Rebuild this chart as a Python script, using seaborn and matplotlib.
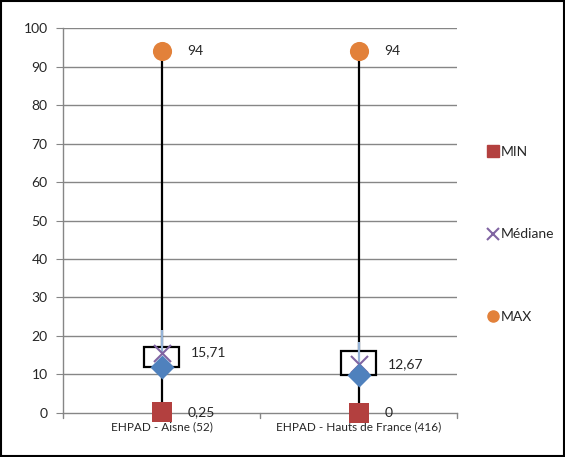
import pandas as pd
import seaborn as sns
import matplotlib.pyplot as plt
from matplotlib.lines import Line2D
from matplotlib.patches import Rectangle

categories = ["EHPAD - Aisne (52)", "EHPAD - Hauts de France (416)"]
mins = [0.25, 0]
q1 = [12.0, 9.8]
medians = [15.71, 12.67]
q3 = [17.2, 16.2]
upper = [21.5, 18.5]
maxs = [94, 94]
min_labels = ["0,25", "0"]
med_labels = ["15,71", "12,67"]
max_labels = ["94", "94"]

if __name__ == "__main__":
    sns.set_style("white")
    plt.rcParams['font.family'] = ['Lato', 'DejaVu Sans']

    df = pd.DataFrame({"cat": categories, "MIN": mins, "Q1": q1, "Médiane": medians,
                       "Q3": q3, "haut": upper, "MAX": maxs})

    fig = plt.figure(figsize=(5.65, 4.57), dpi=100)
    ax = fig.add_axes([0.1115, 0.0963, 0.6975, 0.8424])

    # grid lines
    for v in range(10, 101, 10):
        ax.axhline(v, color="#868686", lw=1, zorder=0)

    # min-max line
    ax.vlines(df["cat"], df["MIN"], df["MAX"], color="black", lw=1.6, zorder=1)
    # box (Q1 - Q3)
    ax.bar(df["cat"], df["Q3"] - df["Q1"], bottom=df["Q1"], width=0.18,
           color="white", edgecolor="black", linewidth=1.6, zorder=2)
    # light blue segment above median
    ax.vlines(df["cat"], df["Médiane"], df["haut"], color="#95B3D7", lw=1.6, zorder=3)

    sns.scatterplot(data=df, x="cat", y="Q1", marker="D", s=150, color="#4F81BD",
                    edgecolor="#4F81BD", linewidth=0, ax=ax, zorder=5, legend=False)
    sns.scatterplot(data=df, x="cat", y="Médiane", marker="x", s=150, color="#8064A2",
                    linewidth=1.5, ax=ax, zorder=4, legend=False)
    sns.scatterplot(data=df, x="cat", y="MAX", marker="o", s=190, color="#E2813A",
                    linewidth=0, ax=ax, zorder=5, legend=False)
    sns.scatterplot(data=df, x="cat", y="MIN", marker="s", s=210, color="#B3403F",
                    linewidth=0, ax=ax, zorder=5, legend=False, clip_on=False)

    for i in range(len(categories)):
        ax.text(i + 0.13, maxs[i], max_labels[i], va="center", ha="left", fontsize=10)
        ax.text(i + 0.15, medians[i], med_labels[i], va="center", ha="left", fontsize=10)
        ax.text(i + 0.13, mins[i], min_labels[i], va="center", ha="left", fontsize=10)

    ax.set_xlim(-0.5, 1.5)
    ax.set_ylim(0, 100)
    ax.set_yticks(range(0, 101, 10))
    ax.set_xticks([0, 1])
    ax.set_xticklabels(categories, fontsize=8.5)
    ax.set_xlabel("")
    ax.set_ylabel("")
    ax.tick_params(axis="y", labelsize=10, length=5, color="#868686", left=True, pad=6)
    ax.tick_params(axis="x", length=0, pad=6)
    for x in [-0.5, 0.5, 1.5]:
        ax.plot([x, x], [0, -1.2], color="#868686", lw=1, clip_on=False)
    for s in ["top", "right"]:
        ax.spines[s].set_visible(False)
    for s in ["left", "bottom"]:
        ax.spines[s].set_color("#868686")
        ax.spines[s].set_linewidth(1)

    handles = [
        Line2D([], [], marker="s", color="#B3403F", linestyle="none", markersize=8),
        Line2D([], [], marker="x", color="#8064A2", linestyle="none", markersize=8, markeredgewidth=1.5),
        Line2D([], [], marker="o", color="#E2813A", linestyle="none", markersize=8),
    ]
    fig.legend(handles, ["MIN", "Médiane", "MAX"], loc="center left",
               bbox_to_anchor=(0.835, 0.487), frameon=False, fontsize=10,
               handletextpad=0.0, labelspacing=5.1, handlelength=1.2)

    fig.patches.append(Rectangle((0.002, 0.002), 0.996, 0.996, transform=fig.transFigure,
                                 fill=False, edgecolor="black", lw=1.5))
    fig.savefig("out.png", dpi=100)
